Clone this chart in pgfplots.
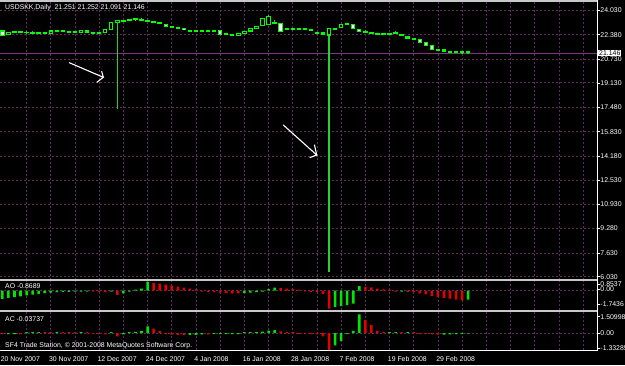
\documentclass[border=0pt]{standalone}
\usepackage{fontspec}
\setmainfont{Liberation Sans}
\usepackage{pgfplots}
\usepackage{pgfplotstable}
\pgfplotsset{compat=1.18}
\definecolor{gridc}{RGB}{95,45,95}
\definecolor{bidc}{RGB}{130,50,130}
\definecolor{cg}{RGB}{0,255,0}
\definecolor{wickc}{RGB}{40,210,40}
\definecolor{aog}{RGB}{0,230,0}
\definecolor{aor}{RGB}{230,0,0}
\definecolor{sepc}{RGB}{200,200,200}
\newcommand\mt{\fontsize{6.9}{7.5}\selectfont}

\pgfplotstableread{
i O H L C
0 22.63 22.66 22.28 22.30
1 22.40 22.56 22.37 22.53
2 22.53 22.65 22.48 22.60
3 22.60 22.66 22.49 22.53
4 22.53 22.61 22.45 22.56
5 22.56 22.62 22.46 22.49
6 22.53 22.58 22.41 22.44
7 22.44 22.56 22.42 22.53
8 22.48 22.67 22.46 22.63
9 22.60 22.71 22.55 22.67
10 22.67 22.69 22.58 22.60
11 22.62 22.64 22.49 22.51
12 22.51 22.66 22.47 22.58
13 22.55 22.71 22.52 22.68
14 22.64 22.70 22.52 22.56
15 22.56 22.58 22.43 22.46
16 22.45 22.56 22.43 22.53
17 22.50 22.79 22.48 22.76
18 22.72 23.22 22.70 23.19
19 23.18 23.34 17.36 23.31
20 23.29 23.40 23.24 23.36
21 23.34 23.46 23.30 23.41
22 23.38 23.50 23.34 23.45
23 23.44 23.50 23.36 23.37
24 23.36 23.38 23.29 23.30
25 23.28 23.30 23.21 23.22
26 23.19 23.21 23.13 23.13
27 23.10 23.12 22.90 22.92
28 22.96 22.98 22.85 22.87
29 22.89 22.91 22.83 22.83
30 22.83 22.85 22.68 22.70
31 22.68 22.73 22.60 22.62
32 22.64 22.65 22.57 22.58
33 22.57 22.70 22.55 22.67
34 22.65 22.67 22.58 22.59
35 22.63 22.65 22.56 22.57
36 22.65 22.67 22.39 22.41
37 22.44 22.46 22.38 22.38
38 22.40 22.45 22.30 22.33
39 22.32 22.51 22.30 22.48
40 22.43 22.62 22.41 22.59
41 22.63 22.81 22.60 22.77
42 22.80 22.99 22.78 22.96
43 22.97 23.52 22.95 23.49
44 23.04 23.71 23.02 23.64
45 23.23 23.38 23.09 23.14
46 23.15 23.18 22.55 22.58
47 22.72 22.82 22.69 22.78
48 22.78 22.84 22.70 22.72
49 22.72 22.83 22.68 22.78
50 22.78 22.80 22.71 22.72
51 22.72 22.74 22.66 22.66
52 22.52 22.54 22.46 22.46
53 22.50 22.52 22.38 22.40
54 22.36 22.84 6.35 22.81
55 22.80 22.82 22.73 22.74
56 22.88 23.13 22.86 23.10
57 23.06 23.16 23.04 23.13
58 23.10 23.13 22.75 22.77
59 22.76 22.78 22.61 22.63
60 22.60 22.67 22.50 22.53
61 22.52 22.54 22.46 22.46
62 22.48 22.50 22.38 22.40
63 22.44 22.46 22.35 22.37
64 22.39 22.50 22.35 22.46
65 22.45 22.60 22.40 22.52
66 22.41 22.43 22.29 22.31
67 22.23 22.25 22.10 22.12
68 22.12 22.14 22.05 22.05
69 22.03 22.05 21.82 21.84
70 21.84 21.86 21.60 21.62
71 21.66 21.68 21.38 21.40
72 21.38 21.40 21.31 21.31
73 21.39 21.41 21.26 21.28
74 21.25 21.27 21.18 21.18
75 21.23 21.25 21.16 21.16
76 21.17 21.26 21.11 21.24
77 21.251 21.252 21.091 21.146
}\ohlc

\pgfplotstableread{
i v g
0 -0.80 1
1 -0.70 1
2 -0.62 1
3 -0.55 1
4 -0.46 1
5 -0.38 1
6 -0.30 1
7 -0.23 1
8 -0.18 1
9 -0.14 1
10 -0.12 1
11 -0.11 1
12 -0.10 1
13 -0.10 1
14 -0.10 1
15 -0.10 0
16 -0.12 0
17 -0.15 0
18 -0.10 1
19 -0.40 0
20 -0.25 1
21 -0.10 1
22 0.10 1
23 0.20 1
24 0.8537 1
25 0.75 0
26 0.68 0
27 0.60 0
28 0.50 0
29 0.40 0
30 0.30 0
31 0.20 0
32 0.12 0
33 -0.10 0
34 -0.12 0
35 -0.15 0
36 -0.18 0
37 -0.22 0
38 -0.25 0
39 -0.27 0
40 -0.24 1
41 -0.20 1
42 -0.15 1
43 -0.10 1
44 0.15 1
45 0.30 1
46 0.25 0
47 0.20 0
48 0.14 0
49 0.10 0
50 -0.10 0
51 -0.12 0
52 -0.15 0
53 -0.30 0
54 -1.7436 0
55 -1.57 1
56 -1.51 1
57 -1.41 1
58 -1.26 1
59 0.44 1
60 0.38 0
61 0.31 0
62 0.20 0
63 0.13 0
64 0.10 0
65 -0.10 0
66 -0.10 1
67 -0.12 0
68 -0.15 0
69 -0.25 0
70 -0.35 0
71 -0.50 0
72 -0.60 0
73 -0.70 0
74 -0.78 0
75 -0.86 0
76 -0.95 0
77 -0.8689 1
}\ao

\pgfplotstableread{
i v g
0 -0.08 0
1 -0.08 1
2 -0.08 1
3 -0.08 0
4 0.08 1
5 0.08 1
6 0.08 1
7 0.08 0
8 0.08 0
9 0.08 1
10 0.08 0
11 0.08 0
12 0.08 0
13 0.08 1
14 0.08 0
15 -0.08 0
16 -0.08 0
17 -0.10 0
18 0.08 1
19 -0.25 0
20 -0.10 1
21 0.08 1
22 0.10 1
23 0.17 1
24 0.55 1
25 0.37 0
26 0.18 0
27 -0.08 0
28 -0.12 0
29 -0.14 0
30 -0.15 0
31 -0.14 1
32 -0.13 1
33 -0.10 1
34 -0.10 0
35 -0.08 1
36 -0.08 1
37 -0.08 1
38 -0.08 1
39 -0.08 1
40 0.08 1
41 0.08 1
42 0.08 1
43 0.12 1
44 0.20 1
45 0.25 1
46 0.15 0
47 0.10 0
48 0.08 0
49 -0.08 0
50 -0.08 0
51 -0.08 0
52 -0.10 0
53 -0.25 0
54 -1.33285 0
55 -0.97 1
56 -0.64 1
57 -0.08 1
58 0.18 1
59 1.50998 1
60 1.07 0
61 0.64 0
62 0.18 0
63 0.08 0
64 0.08 1
65 0.08 1
66 0.08 0
67 0.08 1
68 0.08 0
69 -0.08 0
70 -0.08 0
71 -0.10 0
72 -0.12 0
73 -0.11 1
74 -0.10 1
75 -0.08 1
76 -0.08 1
77 -0.03737 1
}\ac

\pgfplotsset{mtbase/.style={
  scale only axis, width=597pt, anchor=south west,
  xmin=-0.39, xmax=98.29,
  axis line style={draw=none},
  xtick={4,8,...,96}, xticklabels={},
  xtick style={draw=none},
  xmajorgrids,
  major grid style={gridc, dash pattern=on 2pt off 2pt, line width=0.7pt},
  ytick pos=right, yticklabel pos=right,
  tick align=outside, major tick length=3pt,
  ytick style={white, line width=0.6pt},
  yticklabel style={font=\mt, text=white, inner sep=0pt, xshift=0.3pt},
  clip mode=individual,
}}

\begin{document}
\begin{tikzpicture}
\fill[black] (0,0) rectangle (625pt,365pt);
\useasboundingbox (0,0) rectangle (625pt,365pt);

% main price panel
\begin{axis}[mtbase, at={(0pt,85pt)}, height=278pt,
  ymin=5.807, ymax=24.59, ymajorgrids,
  ytick={6.03,7.63,9.28,10.93,12.53,14.18,15.83,17.48,19.13,20.73,22.38,24.03},
  yticklabels={6.030,7.630,9.280,10.930,12.530,14.180,15.830,17.480,19.130,20.730,22.380,24.030}]
\addplot[bidc, line width=0.8pt] coordinates {(-0.39,21.146) (98.29,21.146)};
% wicks
\addplot[wickc, line width=1.5pt, quiver={u=0, v={\thisrow{H}-\thisrow{L}}}]
  table[x=i, y=L] {\ohlc};
% bodies (outline colour)
\addplot[cg, line width=4.4pt, quiver={u=0, v={abs(\thisrow{C}-\thisrow{O})+0.07}}]
  table[x=i, y expr={min(\thisrow{O},\thisrow{C})-0.035}] {\ohlc};
% bull interiors
\addplot[black, line width=2.4pt, quiver={u=0, v={\thisrow{C}-\thisrow{O}-0.07}},
  restrict expr to domain={\thisrow{C}-\thisrow{O}}{0.12:100}]
  table[x=i, y expr={\thisrow{O}+0.035}] {\ohlc};
% bear interiors
\addplot[white, line width=2.4pt, quiver={u=0, v={\thisrow{O}-\thisrow{C}-0.07}},
  restrict expr to domain={\thisrow{O}-\thisrow{C}}{0.12:100}]
  table[x=i, y expr={\thisrow{C}+0.035}] {\ohlc};
\node[fill=white, text=black, font=\mt, inner sep=0.9pt, anchor=west]
  at (axis cs:98.29,21.146) {\,21.146};
\end{axis}

% AO panel
\begin{axis}[mtbase, at={(0pt,55pt)}, height=29pt,
  ymin=-1.874, ymax=0.94,
  ytick={-1.32,0.12,0.65}, yticklabels={-1.7436,0.00,0.8537}]
\addplot[gridc, dash pattern=on 2pt off 2pt, line width=0.7pt] coordinates {(-0.39,0) (98.29,0)};
\addplot[ybar, bar width=2.6pt, bar shift=0pt, fill=aog, draw=none,
  restrict expr to domain={\thisrow{g}}{0.5:1.5}] table[x=i, y=v] {\ao};
\addplot[ybar, bar width=2.6pt, bar shift=0pt, fill=aor, draw=none,
  restrict expr to domain={\thisrow{g}}{-0.5:0.5}] table[x=i, y=v] {\ao};
\end{axis}

% AC panel
\begin{axis}[mtbase, at={(0pt,15pt)}, height=38pt,
  ymin=-1.34, ymax=1.69,
  ytick={-1.195,0,1.32}, yticklabels={-1.33285,0.00,1.50998},
  xmajorgrids=false, xminorgrids,
  minor xtick={4,8,...,96},
  minor grid style={gridc, dash pattern=on 2pt off 2pt, line width=0.7pt},
  minor tick length=0pt,
  xtick={0,8,...,72},
  xticklabels={20 Nov 2007,30 Nov 2007,12 Dec 2007,24 Dec 2007,4 Jan 2008,16 Jan 2008,28 Jan 2008,7 Feb 2008,19 Feb 2008,29 Feb 2008},
  xtick pos=bottom,
  xtick style={white, line width=0.6pt},
  xticklabel style={font=\mt, text=white, anchor=north west, inner sep=0pt, xshift=-1.8pt, yshift=-3.5pt}]
\addplot[gridc, dash pattern=on 2pt off 2pt, line width=0.7pt] coordinates {(-0.39,0) (98.29,0)};
\addplot[ybar, bar width=2.6pt, bar shift=0pt, fill=aog, draw=none,
  restrict expr to domain={\thisrow{g}}{0.5:1.5}] table[x=i, y=v] {\ac};
\addplot[ybar, bar width=2.6pt, bar shift=0pt, fill=aor, draw=none,
  restrict expr to domain={\thisrow{g}}{-0.5:0.5}] table[x=i, y=v] {\ac};
\end{axis}

% frame and separators
\draw[sepc, line width=1.2pt] (0,364pt) -- (597pt,364pt);
\draw[white, line width=0.8pt] (597pt,364.5pt) -- (597pt,15pt) -- (0,15pt);
\draw[sepc, line width=2pt] (0,85pt) -- (597pt,85pt);
\draw[sepc, line width=2pt] (0,54pt) -- (597pt,54pt);

% texts
\node[anchor=west, text=white, font=\mt, inner sep=0pt] at (5pt,357.5pt) {USDSKK,Daily\ \ 21.251 21.252 21.091 21.146};
\node[anchor=west, text=white, font=\mt, inner sep=0pt] at (5pt,79pt) {AO -0.8689};
\node[anchor=west, text=white, font=\mt, inner sep=0pt] at (5pt,45.5pt) {AC -0.03737};
\node[anchor=west, text=white, font=\mt, inner sep=0pt] at (5pt,19pt) {SF4 Trade Station, © 2001-2008 MetaQuotes Software Corp.};

% hand-drawn arrows
\draw[white, line width=1.1pt, line cap=round] (69.3pt,302.3pt) -- (103.3pt,287.7pt) -- (97pt,282.8pt);
\draw[white, line width=1.1pt, line cap=round] (101.7pt,293.5pt) -- (103.3pt,287.7pt);
\draw[white, line width=1.1pt, line cap=round] (283.3pt,240pt) -- (316.7pt,210pt) -- (310pt,207.5pt);
\draw[white, line width=1.1pt, line cap=round] (314.5pt,220pt) -- (316.7pt,210pt);
\end{tikzpicture}
\end{document}
